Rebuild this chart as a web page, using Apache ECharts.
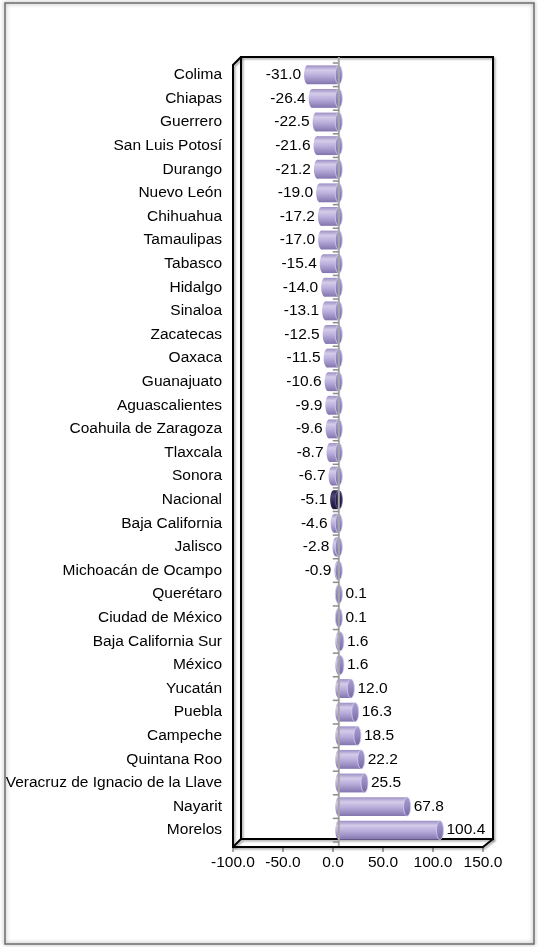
<!DOCTYPE html>
<html>
<head>
<meta charset="utf-8">
<script src="https://cdn.jsdelivr.net/npm/echarts@6/dist/echarts.min.js"></script>
<style>
  html, body { margin: 0; padding: 0; background: #fff; }
  #chart { width: 538px; height: 947px; }
</style>
</head>
<body>
<div id="chart"></div>
<script>
// States, top to bottom
const categories = [
  'Colima', 'Chiapas', 'Guerrero', 'San Luis Potosí', 'Durango', 'Nuevo León',
  'Chihuahua', 'Tamaulipas', 'Tabasco', 'Hidalgo', 'Sinaloa', 'Zacatecas',
  'Oaxaca', 'Guanajuato', 'Aguascalientes', 'Coahuila de Zaragoza', 'Tlaxcala',
  'Sonora', 'Nacional', 'Baja California', 'Jalisco', 'Michoacán de Ocampo',
  'Querétaro', 'Ciudad de México', 'Baja California Sur', 'México', 'Yucatán',
  'Puebla', 'Campeche', 'Quintana Roo', 'Veracruz de Ignacio de la Llave',
  'Nayarit', 'Morelos'
];
// Percentage change per state
const values = [
  -31.0, -26.4, -22.5, -21.6, -21.2, -19.0,
  -17.2, -17.0, -15.4, -14.0, -13.1, -12.5,
  -11.5, -10.6, -9.9, -9.6, -8.7,
  -6.7, -5.1, -4.6, -2.8, -0.9,
  0.1, 0.1, 1.6, 1.6, 12.0,
  16.3, 18.5, 22.2, 25.5,
  67.8, 100.4
];
// Value axis ticks
const axisMin = -100;
const axisMax = 150;
const axisStep = 50;

const FONT = 'Liberation Sans, Arial, sans-serif';
const FS = 15.5;
const barData = values.map((v, i) => [v, i]);
const tickData = categories.map((c, i) => [0, i]);

function lin(stops) {
  return new echarts.graphic.LinearGradient(0, 0, 0, 1,
    stops.map(s => ({ offset: s[0], color: s[1] })));
}

// Cylinder-shaped horizontal bar with its value label
function renderCylinder(params, api) {
  const v = api.value(0);
  const c = api.value(1);
  const p0 = api.coord([0, c]);
  const p1 = api.coord([v, c]);
  const h = api.size([0, 1])[1] * 0.8;
  const rx = 3.5;
  const x0 = Math.min(p0[0], p1[0]);
  const x1 = Math.max(p0[0], p1[0]);
  const cy = p0[1];
  const dark = categories[c] === 'Nacional';
  const body = dark
    ? lin([[0, '#2a2248'], [0.3, '#4d4575'], [0.6, '#30285a'], [1, '#1b1533']])
    : lin([[0, '#9b8fc4'], [0.25, '#d4cce9'], [0.55, '#b8acdb'], [1, '#8275ae']]);
  const cap = dark
    ? lin([[0, '#3c3362'], [0.5, '#261f45'], [1, '#1b1533']])
    : lin([[0, '#aa9fd2'], [0.5, '#9286bf'], [1, '#7668a3']]);
  const children = [
    { type: 'ellipse', shape: { cx: x0, cy: cy, rx: rx, ry: h / 2 },
      style: { fill: body } },
    { type: 'rect', shape: { x: x0, y: cy - h / 2, width: x1 - x0, height: h },
      style: { fill: body } },
    { type: 'ellipse', shape: { cx: x1, cy: cy, rx: rx, ry: h / 2 },
      style: { fill: cap, stroke: dark ? '#6c6392' : '#d6cff0', lineWidth: 0.8 } }
  ];
  children.push({
    type: 'text',
    style: {
      text: v.toFixed(1),
      x: v < 0 ? x0 - rx - 3 : x1 + rx + 3,
      y: cy,
      align: v < 0 ? 'right' : 'left',
      verticalAlign: 'middle',
      fill: '#000',
      font: FS + 'px ' + FONT
    }
  });
  return { type: 'group', children: children };
}

// Vertical zero line with a short tick at each category boundary
function renderZeroAxis(params, api) {
  const c = api.value(1);
  const p = api.coord([0, c]);
  const step = api.size([0, 1])[1];
  const yTop = p[1] - step / 2;
  const tick = { stroke: '#8c8c8c', lineWidth: 1.5 };
  const children = [
    { type: 'line', shape: { x1: p[0] - 6, y1: yTop, x2: p[0], y2: yTop }, style: tick }
  ];
  if (c === categories.length - 1) {
    children.push({ type: 'line',
      shape: { x1: p[0] - 6, y1: yTop + step, x2: p[0], y2: yTop + step }, style: tick });
  }
  if (c === 0) {
    const bottom = api.coord([0, categories.length - 1])[1] + step / 2;
    children.push({ type: 'line', shape: { x1: p[0], y1: yTop - 6, x2: p[0], y2: bottom + 4 },
      style: { stroke: '#a6a6a6', lineWidth: 2 } });
  }
  return { type: 'group', children: children };
}

// Box frame around the plot (3D-style walls)
const frameLine = {
  stroke: '#000', lineWidth: 2, fill: null,
  shadowColor: 'rgba(0,0,0,0.35)', shadowBlur: 2, shadowOffsetX: 1.5, shadowOffsetY: 1.5
};
const L0 = 233, L1 = 241, R1 = 493, R0 = 483, T1 = 57, T0 = 65, B1 = 839, B0 = 847;

const chart = echarts.init(document.getElementById('chart'), null, { renderer: 'canvas' });
chart.setOption({
  backgroundColor: '#fff',
  animation: false,
  textStyle: { fontFamily: FONT },
  grid: [
    { left: 238, right: 48, top: 63, bottom: 105 },
    { left: L0, right: 538 - R0, top: T0, bottom: 947 - B0 }
  ],
  xAxis: [
    { gridIndex: 0, type: 'value', min: axisMin, max: axisMax, interval: axisStep,
      show: false },
    { gridIndex: 1, type: 'value', min: axisMin, max: axisMax, interval: axisStep,
      axisLine: { show: false },
      axisTick: { show: true, length: 5, lineStyle: { color: '#8c8c8c', width: 1.5 } },
      splitLine: { show: false },
      axisLabel: { margin: 8, color: '#000', fontSize: FS, fontFamily: FONT,
        formatter: v => v.toFixed(1) } }
  ],
  yAxis: [
    { gridIndex: 0, type: 'category', data: categories, inverse: true,
      position: 'left',
      axisLine: { show: false, onZero: false }, axisTick: { show: false },
      axisLabel: { margin: 16, color: '#000', fontSize: FS, fontFamily: FONT } },
    { gridIndex: 1, type: 'category', data: categories, inverse: true, show: false }
  ],
  series: [
    { type: 'custom', name: 'cambio', xAxisIndex: 0, yAxisIndex: 0, data: barData,
      encode: { x: 0, y: 1 }, renderItem: renderCylinder, clip: false, z: 5 },
    { type: 'custom', name: 'cero', xAxisIndex: 0, yAxisIndex: 0, data: tickData,
      encode: { x: 0, y: 1 }, renderItem: renderZeroAxis, clip: false, z: 6, silent: true }
  ],
  graphic: [
    { type: 'rect', shape: { x: 5, y: 3, width: 529, height: 941 },
      style: { fill: null, stroke: '#6e6e6e', lineWidth: 1.5,
        shadowColor: 'rgba(0,0,0,0.45)', shadowBlur: 4 }, z: 1 },
    { type: 'polyline', shape: { points: [[L1, B1], [L1, T1], [R1, T1], [R1, B1], [L1, B1]] },
      style: frameLine, z: 2 },
    { type: 'polyline', shape: { points: [[L1, T1], [L0, T0], [L0, B0], [R0, B0], [R1, B1]] },
      style: frameLine, z: 2 },
    { type: 'line', shape: { x1: L0, y1: B0, x2: L1, y2: B1 }, style: frameLine, z: 2 }
  ]
});
</script>
</body>
</html>
